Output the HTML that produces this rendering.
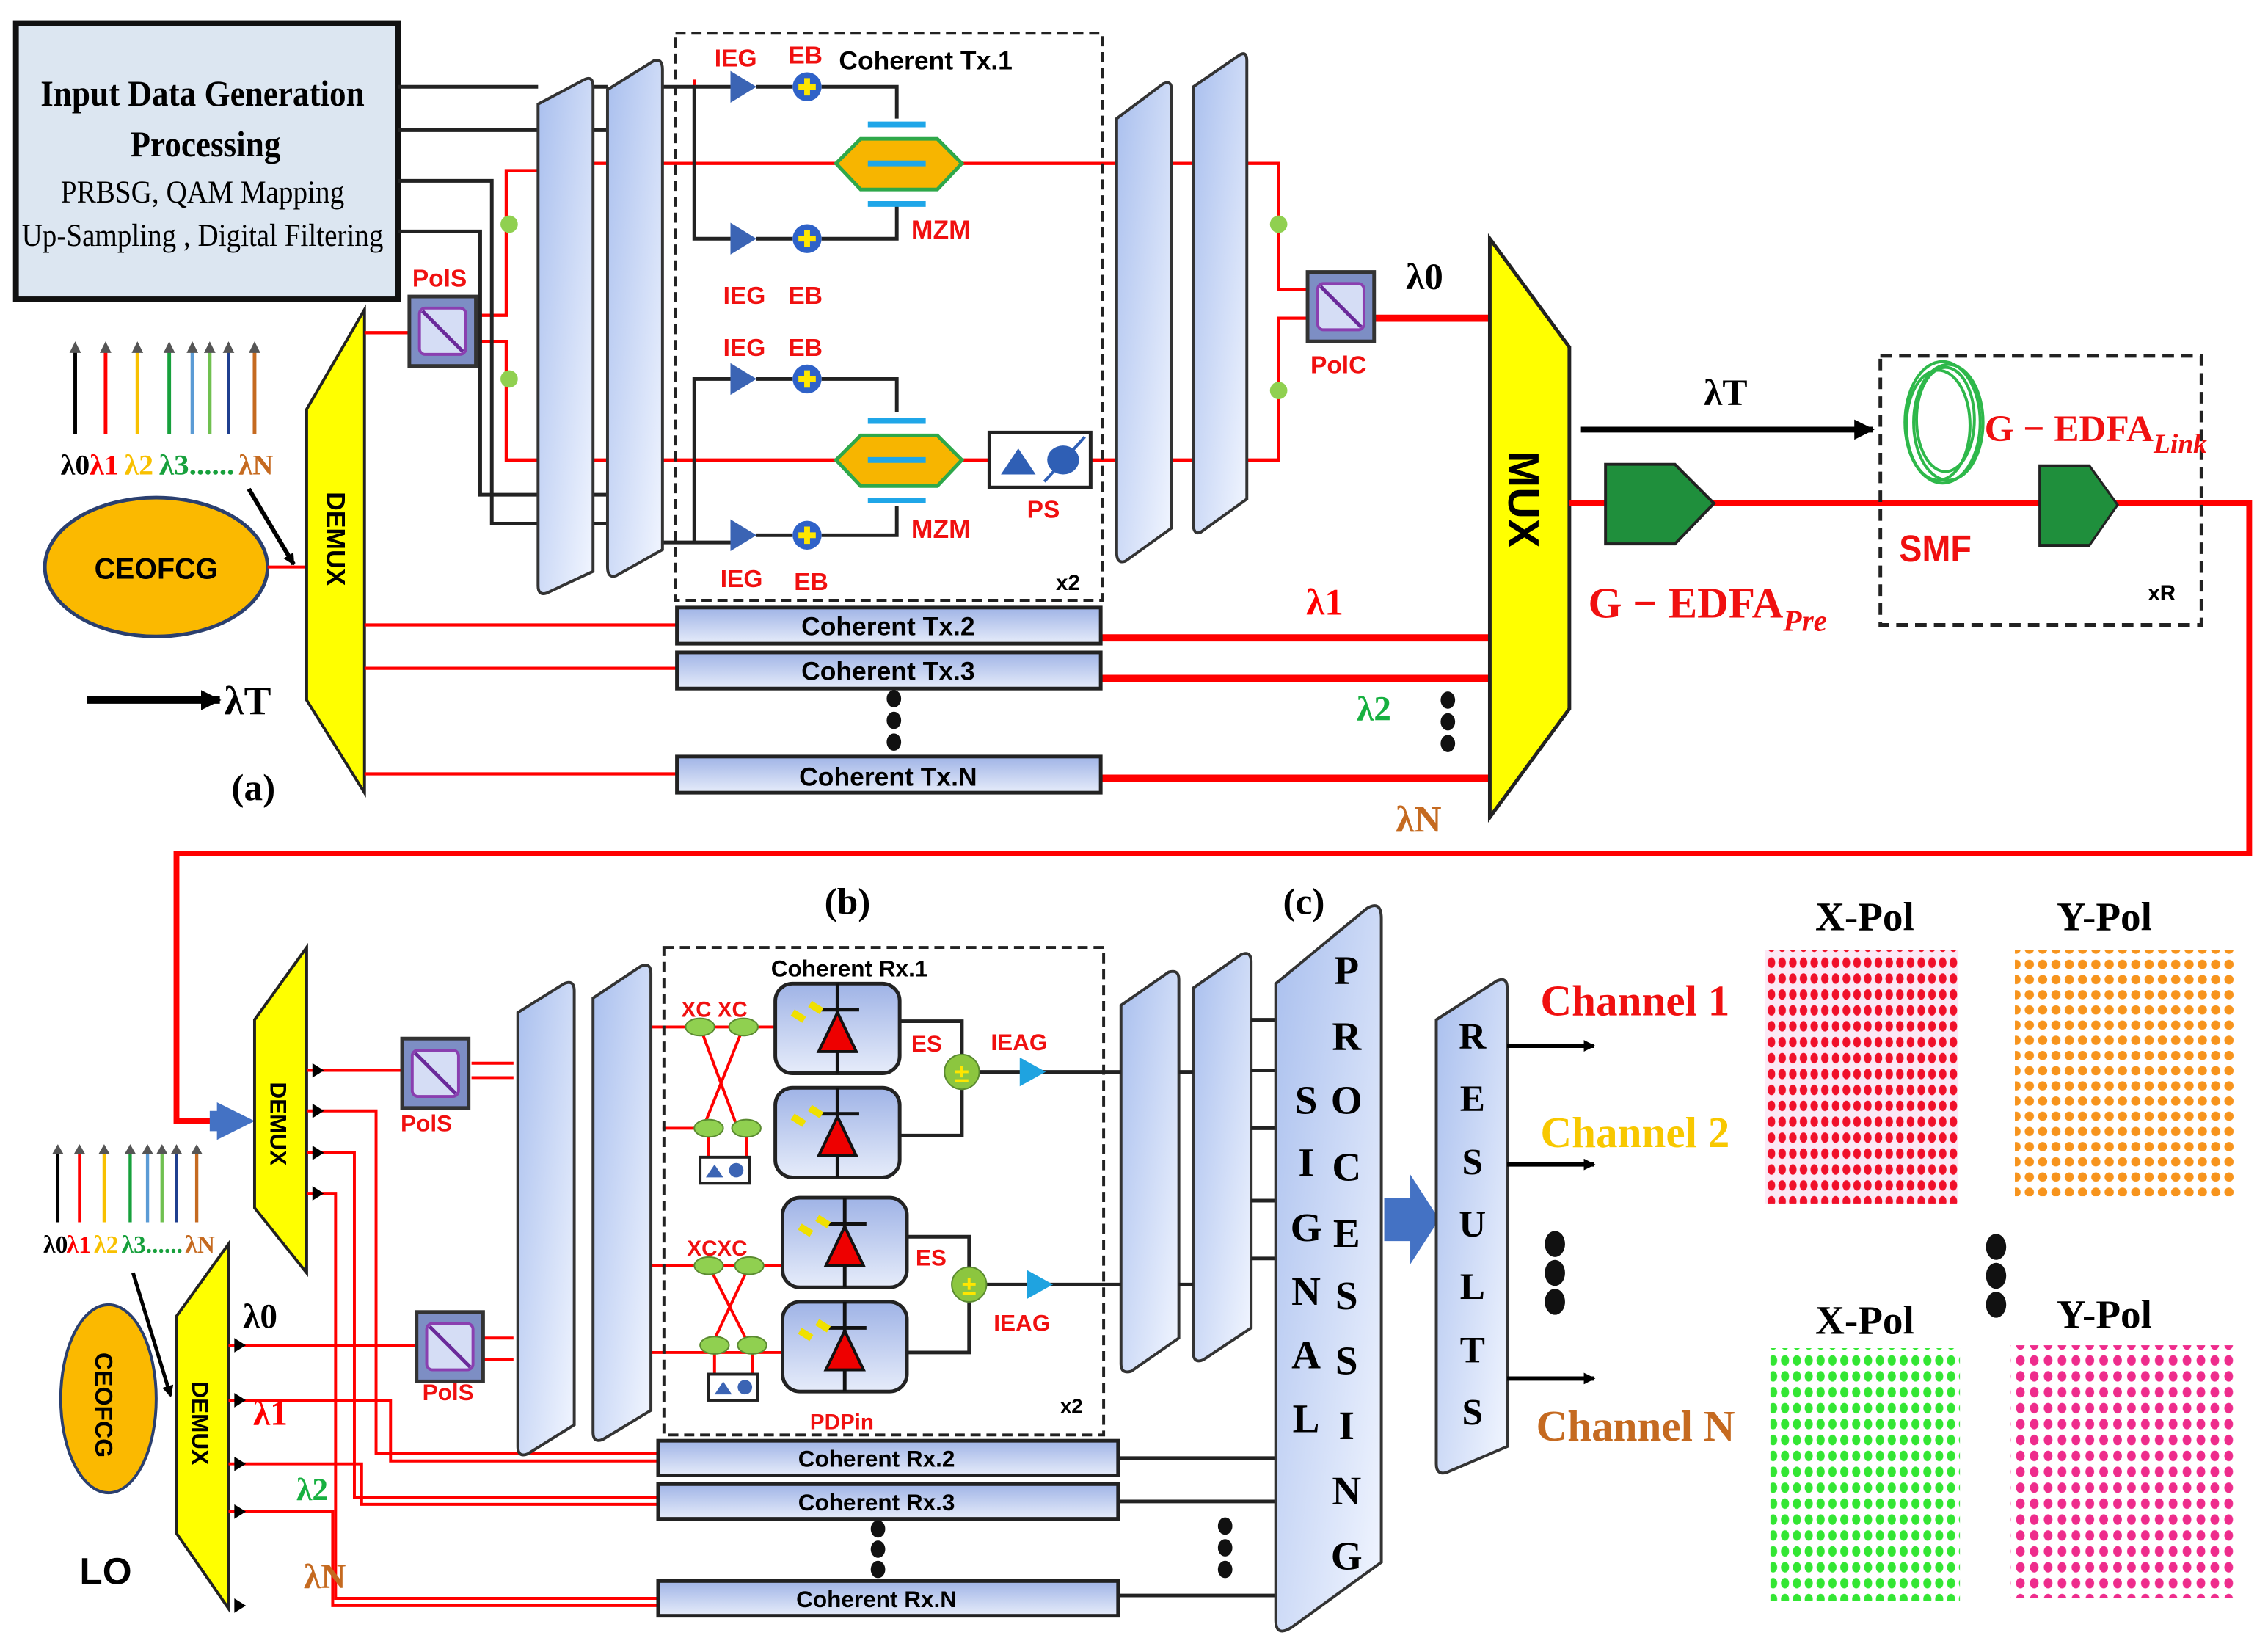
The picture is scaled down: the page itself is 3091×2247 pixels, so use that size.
<!DOCTYPE html>
<html><head><meta charset="utf-8"><style>
html,body{margin:0;padding:0;background:#fff;}
svg{display:block;}
.r{font-family:"Liberation Sans",sans-serif;font-weight:bold;fill:#f01010;}
.s{font-family:"Liberation Serif",serif;font-weight:bold;}
.b{font-family:"Liberation Sans",sans-serif;font-weight:bold;}
</style></head><body>
<svg width="3091" height="2247" viewBox="0 0 1568 1140" preserveAspectRatio="none" xmlns="http://www.w3.org/2000/svg">
<defs>
<linearGradient id="pg" x1="0" y1="0" x2="1" y2="1"><stop offset="0" stop-color="#a9bfee"/><stop offset="1" stop-color="#f2f6ff"/></linearGradient>
<linearGradient id="bar" x1="0" y1="0" x2="0" y2="1"><stop offset="0" stop-color="#9fb3e6"/><stop offset="1" stop-color="#e6ecfa"/></linearGradient>
<marker id="ah" markerWidth="8" markerHeight="8" refX="7" refY="4" orient="auto" markerUnits="userSpaceOnUse"><path d="M0,0 L8,4 L0,8Z" fill="#000"/></marker>
<marker id="ah2" markerWidth="14" markerHeight="14" refX="13" refY="7" orient="auto" markerUnits="userSpaceOnUse"><path d="M0,0 L14,7 L0,14Z" fill="#000"/></marker>
<pattern id="dR" width="7.4" height="11" patternUnits="userSpaceOnUse"><ellipse cx="3.7" cy="5.5" rx="2.6" ry="3.6" fill="#f0102a"/></pattern>
<pattern id="dO" width="9.2" height="10.5" patternUnits="userSpaceOnUse"><circle cx="4.6" cy="5.2" r="3.2" fill="#f7941d"/></pattern>
<pattern id="dG" width="8.2" height="11" patternUnits="userSpaceOnUse"><ellipse cx="4.1" cy="5.5" rx="2.8" ry="3.6" fill="#33e633"/></pattern>
<pattern id="dP" width="9.6" height="11" patternUnits="userSpaceOnUse"><ellipse cx="4.8" cy="5.5" rx="3" ry="3.6" fill="#ee2c8c"/></pattern>
<g id="eb"><circle r="10" fill="#2f62c8"/><path d="M-6,0H6M0,-6V6" stroke="#ffe600" stroke-width="4"/></g>
<g id="ieg"><path d="M0,-11 L18,0 L0,11Z" fill="#3b64b4"/></g>
<g id="pd"><rect x="0" y="0" width="86" height="62" rx="12" fill="url(#bar)" stroke="#222" stroke-width="2.5"/><path d="M43,0V62M28,18H58" stroke="#111" stroke-width="2.5"/><path d="M43,20 L30,47 L56,47Z" fill="#ee0000" stroke="#111" stroke-width="2"/><path d="M12,20 l8,5 M24,14 l8,5" stroke="#f0e000" stroke-width="5"/></g>
<g id="pol"><rect x="0" y="0" width="46" height="48" fill="#7d8ec4" stroke="#333" stroke-width="2.5"/><rect x="7" y="8" width="32" height="32" rx="4" fill="#d5ddf5" stroke="#8a3fb0" stroke-width="2"/><path d="M9,10 L37,38" stroke="#6a2a9a" stroke-width="2.5"/></g>
<g id="amp"><path d="M0,0 H48 L75,27 L48,55 H0Z" fill="#1f8f3c" stroke="#222" stroke-width="2"/></g>
</defs>
<rect width="1568" height="1140" fill="#fff"/>

<!-- ===== (a) TOP ===== -->
<rect x="11" y="16" width="264" height="191" fill="#dce6f1" stroke="#111" stroke-width="4"/>
<text x="140" y="73" text-anchor="middle" class="s" font-size="25" textLength="224" lengthAdjust="spacingAndGlyphs">Input Data Generation</text>
<text x="142" y="108" text-anchor="middle" class="s" font-size="25" textLength="104" lengthAdjust="spacingAndGlyphs">Processing</text>
<text x="140" y="140" text-anchor="middle" font-family="Liberation Serif" font-size="22" textLength="196" lengthAdjust="spacingAndGlyphs">PRBSG, QAM Mapping</text>
<text x="140" y="170" text-anchor="middle" font-family="Liberation Serif" font-size="22" textLength="250" lengthAdjust="spacingAndGlyphs">Up-Sampling , Digital  Filtering</text>

<!-- lambda arrows -->
<g stroke-width="2.5">
<line x1="52" y1="300" x2="52" y2="240" stroke="#000"/><line x1="73" y1="300" x2="73" y2="240" stroke="#f00"/>
<line x1="95" y1="300" x2="95" y2="240" stroke="#f8c000"/><line x1="117" y1="300" x2="117" y2="240" stroke="#17a03c"/>
<line x1="133" y1="300" x2="133" y2="240" stroke="#5b9bd5"/><line x1="145" y1="300" x2="145" y2="240" stroke="#70c050"/>
<line x1="158" y1="300" x2="158" y2="240" stroke="#1f3f8f"/><line x1="176" y1="300" x2="176" y2="240" stroke="#c56a20"/>
</g>
<path d="M48,244 l4,-8 4,8Z M69,244 l4,-8 4,8Z M91,244 l4,-8 4,8Z M113,244 l4,-8 4,8Z M129,244 l4,-8 4,8Z M141,244 l4,-8 4,8Z M154,244 l4,-8 4,8Z M172,244 l4,-8 4,8Z" fill="#555"/>
<g font-family="Liberation Serif" font-size="20" font-weight="bold">
<text x="42" y="328" textLength="20" lengthAdjust="spacingAndGlyphs">λ0</text><text x="62" y="328" fill="#f00" textLength="20" lengthAdjust="spacingAndGlyphs">λ1</text><text x="86" y="328" fill="#f8c000" textLength="20" lengthAdjust="spacingAndGlyphs">λ2</text><text x="110" y="328" fill="#17a03c" textLength="52" lengthAdjust="spacingAndGlyphs">λ3......</text><text x="165" y="328" fill="#c56a20" textLength="24" lengthAdjust="spacingAndGlyphs">λN</text>
</g>
<line x1="172" y1="338" x2="203" y2="390" stroke="#000" stroke-width="3" marker-end="url(#ah)"/>
<ellipse cx="108" cy="392" rx="77" ry="48" fill="#fbb900" stroke="#2a3f6f" stroke-width="2.5"/>
<text x="108" y="400" text-anchor="middle" class="b" font-size="20">CEOFCG</text>
<line x1="185" y1="392" x2="212" y2="392" stroke="#f00" stroke-width="2"/>
<line x1="60" y1="484" x2="152" y2="484" stroke="#000" stroke-width="5" marker-end="url(#ah2)"/>
<text x="155" y="494" class="s" font-size="28" font-weight="normal">λT</text>
<text x="160" y="553" font-family="Liberation Serif" font-size="26" font-weight="bold">(a)</text>

<polygon points="252,214 212,283 212,484 252,548" fill="#ffff00" stroke="#222" stroke-width="2"/>
<text transform="translate(226,340) rotate(90)" class="b" font-size="18">DEMUX</text>

<g stroke="#f00" stroke-width="2.2" fill="none">
<path d="M252,230 H285"/>
<path d="M330,218 H350 V118 H372 M330,236 H350 V318 H372"/>
<path d="M410,113 H420 M410,318 H420"/>
<path d="M458,113 H578 M665,113 H772"/>
<path d="M458,318 H578 M665,318 H684 M754,318 H772"/>
<path d="M810,113 H825 M810,318 H825"/>
<path d="M862,113 H884 V200 H904 M862,318 H884 V220 H904"/>
<path d="M252,432 H468 M252,462 H468 M252,535 H468"/>
<path d="M480,60 H490 M480,55 V72 M480,360 V375 H490"/>
</g>
<circle cx="352" cy="155" r="6" fill="#90d050"/><circle cx="352" cy="262" r="6" fill="#90d050"/>
<circle cx="884" cy="155" r="6" fill="#90d050"/><circle cx="884" cy="270" r="6" fill="#90d050"/>
<g stroke="#f00" stroke-width="5"><path d="M950,220 H1030 M762,441 H1030 M762,469 H1030 M762,538 H1030"/></g>
<use href="#pol" x="283" y="205"/>
<text x="285" y="198" class="r" font-size="17">PolS</text>
<use href="#pol" x="904" y="188"/>
<text x="906" y="258" class="r" font-size="17">PolC</text>

<g stroke="#222" stroke-width="2.5" fill="none">
<path d="M275,60 H372 M275,90 H372 M275,125 H340 V362 H372 M275,160 H332 V342 H372"/>
<path d="M410,60 H420 M410,90 H420 M410,342 H420 M410,362 H420"/>
<path d="M458,60 H505 M458,375 H505"/>
<path d="M480,60 V165 H505 M480,375 V262 H505"/>
<path d="M523,60 H548 M523,165 H548 M523,262 H548 M523,370 H548"/>
<path d="M568,60 H620 V82 M568,165 H620 V142 M568,262 H620 V285 M568,370 H620 V350"/>
</g>
<g fill="url(#pg)" stroke="#333" stroke-width="2">
<path d="M372,72 L404,55 Q410,52 410,60 V395 L378,410 Q372,412 372,405Z"/>
<path d="M420,62 L452,42 Q458,40 458,48 V380 L426,398 Q420,400 420,392Z"/>
<path d="M772,82 L804,58 Q810,55 810,62 V365 L778,388 Q772,390 772,382Z"/>
<path d="M825,60 L857,38 Q862,35 862,42 V345 L830,368 Q825,370 825,362Z"/>
</g>
<rect x="467" y="23" width="295" height="392" fill="none" stroke="#222" stroke-width="2" stroke-dasharray="7,4"/>
<text x="580" y="48" class="b" font-size="18">Coherent Tx.1</text>
<text x="494" y="46" class="r" font-size="17">IEG</text><text x="545" y="44" class="r" font-size="17">EB</text>
<text x="500" y="210" class="r" font-size="17">IEG</text><text x="545" y="210" class="r" font-size="17">EB</text>
<text x="500" y="246" class="r" font-size="17">IEG</text><text x="545" y="246" class="r" font-size="17">EB</text>
<text x="498" y="406" class="r" font-size="17">IEG</text><text x="549" y="408" class="r" font-size="17">EB</text>
<text x="630" y="165" class="r" font-size="18">MZM</text><text x="630" y="372" class="r" font-size="18">MZM</text>
<text x="710" y="358" class="r" font-size="17">PS</text>
<text x="730" y="408" class="b" font-size="15">x2</text>
<use href="#ieg" x="505" y="60"/><use href="#ieg" x="505" y="165"/><use href="#ieg" x="505" y="262"/><use href="#ieg" x="505" y="370"/>
<use href="#eb" x="558" y="60"/><use href="#eb" x="558" y="165"/><use href="#eb" x="558" y="262"/><use href="#eb" x="558" y="370"/>
<g>
<path d="M578,113 L595,96 H648 L665,113 L648,131 H595Z" fill="#f7b500" stroke="#2ea84a" stroke-width="2.5"/>
<path d="M600,113 H640 M600,86 H640 M600,141 H640" stroke="#1fa6e8" stroke-width="4"/>
<path d="M578,318 L595,301 H648 L665,318 L648,336 H595Z" fill="#f7b500" stroke="#2ea84a" stroke-width="2.5"/>
<path d="M600,318 H640 M600,291 H640 M600,346 H640" stroke="#1fa6e8" stroke-width="4"/>
</g>
<rect x="684" y="299" width="70" height="38" fill="#fff" stroke="#222" stroke-width="2.5"/>
<path d="M692,328 L704,310 L716,328Z" fill="#2f5fb5"/><ellipse cx="735" cy="318" rx="11" ry="10" fill="#2f5fb5"/><path d="M722,333 L750,302" stroke="#2f5fb5" stroke-width="2"/>

<g fill="url(#bar)" stroke="#222" stroke-width="2.5">
<rect x="468" y="420" width="293" height="25"/><rect x="468" y="451" width="293" height="25"/><rect x="468" y="523" width="293" height="25"/>
</g>
<g class="b" font-size="18" text-anchor="middle">
<text x="614" y="439">Coherent Tx.2</text><text x="614" y="470">Coherent Tx.3</text><text x="614" y="543">Coherent Tx.N</text>
</g>
<g fill="#111"><ellipse cx="618" cy="483" rx="5" ry="6"/><ellipse cx="618" cy="498" rx="5" ry="6"/><ellipse cx="618" cy="513" rx="5" ry="6"/>
<ellipse cx="1001" cy="484" rx="5" ry="6"/><ellipse cx="1001" cy="499" rx="5" ry="6"/><ellipse cx="1001" cy="514" rx="5" ry="6"/></g>
<text x="972" y="200" class="s" font-size="26">λ0</text>
<text x="903" y="425" class="s" font-size="26" fill="#f00">λ1</text>
<text x="938" y="498" class="s" font-size="24" fill="#17b040">λ2</text>
<text x="965" y="575" class="s" font-size="26" fill="#c56a20">λN</text>

<polygon points="1030,165 1085,240 1085,490 1030,565" fill="#ffff00" stroke="#222" stroke-width="2.5"/>
<text transform="translate(1043,312) rotate(90)" class="b" font-size="30">MUX</text>

<line x1="1093" y1="297" x2="1295" y2="297" stroke="#000" stroke-width="4" marker-end="url(#ah2)"/>
<text x="1178" y="280" class="s" font-size="26" font-weight="normal">λT</text>
<path d="M1085,348 H1555 V590 H122 V775 H150" stroke="#f00" stroke-width="4" fill="none"/>
<path d="M150,762 L176,775 L150,788Z" fill="#4472c4"/><rect x="145" y="768" width="8" height="14" fill="#4472c4"/>
<use href="#amp" x="1110" y="321"/>
<g transform="translate(1410,322) scale(0.72,1)"><use href="#amp"/></g>
<rect x="1300" y="246" width="222" height="186" fill="none" stroke="#222" stroke-width="2.5" stroke-dasharray="8,5"/>
<g fill="none" stroke="#2eb84a" stroke-width="2">
<ellipse cx="1343" cy="292" rx="26" ry="42"/><ellipse cx="1347" cy="292" rx="24" ry="40"/><ellipse cx="1340" cy="294" rx="22" ry="38"/><ellipse cx="1345" cy="290" rx="20" ry="36"/>
</g>
<text x="1313" y="388" class="r" font-size="26" textLength="50" lengthAdjust="spacingAndGlyphs">SMF</text>
<text x="1372" y="305" class="s" font-size="26" fill="#f01010">G − EDFA<tspan font-size="19" font-style="italic" dy="8">Link</tspan></text>
<text x="1098" y="427" class="s" font-size="30" fill="#f01010">G − EDFA<tspan font-size="21" font-style="italic" dy="9">Pre</tspan></text>
<text x="1485" y="415" class="b" font-size="15">xR</text>

<!-- ===== (b) BOTTOM ===== -->
<text x="570" y="632" font-family="Liberation Serif" font-size="26" font-weight="bold">(b)</text>
<text x="887" y="632" font-family="Liberation Serif" font-size="26" font-weight="bold">(c)</text>

<polygon points="212,655 176,705 176,835 212,880" fill="#ffff00" stroke="#222" stroke-width="2"/>
<text transform="translate(187,748) rotate(90)" class="b" font-size="16">DEMUX</text>
<polygon points="158,860 122,910 122,1060 158,1112" fill="#ffff00" stroke="#222" stroke-width="2"/>
<text transform="translate(133,955) rotate(90)" class="b" font-size="16">DEMUX</text>
<ellipse cx="75" cy="967" rx="33" ry="65" fill="#fbb900" stroke="#2a3f6f" stroke-width="2"/>
<text transform="translate(66,935) rotate(90)" class="b" font-size="17">CEOFCG</text>
<text x="55" y="1095" class="b" font-size="26">LO</text>
<g stroke-width="2.2">
<line x1="40" y1="845" x2="40" y2="795" stroke="#000"/><line x1="55" y1="845" x2="55" y2="795" stroke="#f00"/>
<line x1="72" y1="845" x2="72" y2="795" stroke="#f8c000"/><line x1="90" y1="845" x2="90" y2="795" stroke="#17a03c"/>
<line x1="102" y1="845" x2="102" y2="795" stroke="#5b9bd5"/><line x1="112" y1="845" x2="112" y2="795" stroke="#70c050"/>
<line x1="122" y1="845" x2="122" y2="795" stroke="#1f3f8f"/><line x1="136" y1="845" x2="136" y2="795" stroke="#c56a20"/>
</g>
<path d="M36,798 l4,-7 4,7Z M51,798 l4,-7 4,7Z M68,798 l4,-7 4,7Z M86,798 l4,-7 4,7Z M98,798 l4,-7 4,7Z M108,798 l4,-7 4,7Z M118,798 l4,-7 4,7Z M132,798 l4,-7 4,7Z" fill="#555"/>
<g font-family="Liberation Serif" font-size="17" font-weight="bold">
<text x="30" y="866">λ0</text><text x="46" y="866" fill="#f00">λ1</text><text x="65" y="866" fill="#f8c000">λ2</text><text x="84" y="866" fill="#17a03c">λ3......</text><text x="128" y="866" fill="#c56a20">λN</text>
</g>
<line x1="92" y1="880" x2="118" y2="965" stroke="#000" stroke-width="2.5" marker-end="url(#ah)"/>

<g stroke="#f00" stroke-width="2" fill="none">
<path d="M212,740 H278 M212,768 H260 V1005 H455 M212,797 H245 V1035 H455 M212,825 H232 V1105 H455"/>
<path d="M158,930 H290 M158,968 H270 V1010 H455 M158,1012 H250 V1040 H455 M158,1045 H230 V1110 H455"/>
<path d="M326,735 H355 M326,745 H355 M316,925 H355 M316,940 H355"/>
<path d="M448,710 H536 M448,935 H540"/>
<path d="M484,710 L510,780 M514,710 L486,780 M490,875 L518,930 M518,875 L492,930"/>
<path d="M490,780 V800 M516,780 V800 M494,930 V950 M520,930 V950"/>
<path d="M448,875 H540 M458,780 H490"/>
</g>
<g fill="#000">
<path d="M216,735 l8,5 -8,5Z M216,763 l8,5 -8,5Z M216,792 l8,5 -8,5Z M216,820 l8,5 -8,5Z"/>
<path d="M162,925 l8,5 -8,5Z M162,963 l8,5 -8,5Z M162,1007 l8,5 -8,5Z M162,1040 l8,5 -8,5Z M162,1105 l8,5 -8,5Z"/>
</g>
<text x="168" y="918" class="s" font-size="24">λ0</text>
<text x="175" y="985" class="s" font-size="24" fill="#f00">λ1</text>
<text x="205" y="1037" class="s" font-size="22" fill="#17b040">λ2</text>
<text x="210" y="1098" class="s" font-size="24" fill="#c56a20">λN</text>
<use href="#pol" x="278" y="718"/><text x="277" y="782" class="r" font-size="16">PolS</text>
<use href="#pol" x="288" y="907"/><text x="292" y="968" class="r" font-size="16">PolS</text>

<g fill="url(#pg)" stroke="#333" stroke-width="2">
<path d="M358,700 L390,680 Q397,677 397,685 V985 L365,1005 Q358,1008 358,1000Z"/>
<path d="M410,690 L443,668 Q450,665 450,673 V975 L417,995 Q410,998 410,990Z"/>
<path d="M775,695 L808,672 Q815,670 815,677 V925 L782,948 Q775,950 775,943Z"/>
<path d="M825,683 L858,660 Q865,657 865,665 V918 L832,940 Q825,943 825,935Z"/>
</g>
<rect x="459" y="655" width="304" height="337" fill="none" stroke="#222" stroke-width="2" stroke-dasharray="7,4"/>
<text x="533" y="675" class="b" font-size="16">Coherent Rx.1</text>
<g fill="#90d050" stroke="#5a8a30" stroke-width="1">
<ellipse cx="484" cy="710" rx="10" ry="6"/><ellipse cx="514" cy="710" rx="10" ry="6"/><ellipse cx="490" cy="780" rx="10" ry="6"/><ellipse cx="516" cy="780" rx="10" ry="6"/>
<ellipse cx="490" cy="875" rx="10" ry="6"/><ellipse cx="518" cy="875" rx="10" ry="6"/><ellipse cx="494" cy="930" rx="10" ry="6"/><ellipse cx="520" cy="930" rx="10" ry="6"/>
</g>
<g><rect x="484" y="800" width="34" height="18" fill="#fff" stroke="#222" stroke-width="2"/><path d="M488,814 l6,-9 6,9Z" fill="#3b64b4"/><circle cx="509" cy="809" r="5" fill="#3b64b4"/>
<rect x="490" y="950" width="34" height="18" fill="#fff" stroke="#222" stroke-width="2"/><path d="M494,964 l6,-9 6,9Z" fill="#3b64b4"/><circle cx="515" cy="959" r="5" fill="#3b64b4"/></g>
<text x="471" y="703" class="r" font-size="15">XC XC</text>
<text x="475" y="868" class="r" font-size="15">XCXC</text>
<use href="#pd" x="536" y="680"/><use href="#pd" x="536" y="752"/>
<use href="#pd" x="541" y="828"/><use href="#pd" x="541" y="900"/>
<g stroke="#222" stroke-width="2.5" fill="none">
<path d="M622,706 H665 V730 M622,785 H665 V752 M627,855 H670 V876 M627,935 H670 V900"/>
<path d="M676,741 H763 L775,741 M681,888 H763 L775,888 M815,741 H825 M815,888 H825"/>
<path d="M865,705 H882 M865,740 H882 M865,780 H882 M865,830 H882 M865,870 H882"/>
<path d="M773,1008 H882 M773,1038 H882 M773,1103 H882"/>
</g>
<circle cx="665" cy="741" r="12" fill="#8cc63f" stroke="#5a8a30"/><text x="665" y="748" text-anchor="middle" font-size="18" fill="#ffe600" class="b">±</text>
<circle cx="670" cy="888" r="12" fill="#8cc63f" stroke="#5a8a30"/><text x="670" y="895" text-anchor="middle" font-size="18" fill="#ffe600" class="b">±</text>
<path d="M705,731 L723,741 L705,751Z M710,878 L728,888 L710,898Z" fill="#1fa3e0"/>
<text x="630" y="727" class="r" font-size="16">ES</text><text x="685" y="726" class="r" font-size="16">IEAG</text>
<text x="633" y="875" class="r" font-size="16">ES</text><text x="687" y="920" class="r" font-size="16">IEAG</text>
<text x="560" y="988" class="r" font-size="15">PDPin</text>
<text x="733" y="977" class="b" font-size="14">x2</text>

<g fill="url(#bar)" stroke="#222" stroke-width="2.5">
<rect x="455" y="996" width="318" height="24"/><rect x="455" y="1026" width="318" height="24"/><rect x="455" y="1093" width="318" height="24"/>
</g>
<g class="b" font-size="16" text-anchor="middle">
<text x="606" y="1014">Coherent Rx.2</text><text x="606" y="1044">Coherent Rx.3</text><text x="606" y="1111">Coherent Rx.N</text>
</g>
<g fill="#111"><ellipse cx="607" cy="1057" rx="5" ry="6"/><ellipse cx="607" cy="1071" rx="5" ry="6"/><ellipse cx="607" cy="1085" rx="5" ry="6"/>
<ellipse cx="847" cy="1055" rx="5" ry="6"/><ellipse cx="847" cy="1070" rx="5" ry="6"/><ellipse cx="847" cy="1085" rx="5" ry="6"/></g>

<path d="M882,680 L945,628 Q955,622 955,635 V1080 L893,1125 Q882,1132 882,1120Z" fill="url(#pg)" stroke="#333" stroke-width="2"/>
<g class="s" font-size="28" font-weight="bold" text-anchor="middle">
<text x="931" y="680">P</text><text x="931" y="726">R</text><text x="931" y="770">O</text><text x="931" y="816">C</text><text x="931" y="862">E</text><text x="931" y="905">S</text><text x="931" y="950">S</text><text x="931" y="995">I</text><text x="931" y="1040">N</text><text x="931" y="1085">G</text>
<text x="903" y="770">S</text><text x="903" y="813">I</text><text x="903" y="858">G</text><text x="903" y="902">N</text><text x="903" y="946">A</text><text x="903" y="990">L</text>
</g>
<path d="M957,828 H975 V812 L995,843 L975,874 V858 H957Z" fill="#4472c4"/>
<path d="M993,705 L1035,678 Q1042,675 1042,683 V1000 L1000,1018 Q993,1020 993,1012Z" fill="url(#pg)" stroke="#333" stroke-width="2"/>
<g class="s" font-size="26" text-anchor="middle">
<text x="1018" y="725">R</text><text x="1018" y="768">E</text><text x="1018" y="812">S</text><text x="1018" y="855">U</text><text x="1018" y="898">L</text><text x="1018" y="942">T</text><text x="1018" y="985">S</text>
</g>
<g stroke="#000" stroke-width="3">
<line x1="1042" y1="723" x2="1102" y2="723" marker-end="url(#ah)"/>
<line x1="1042" y1="805" x2="1102" y2="805" marker-end="url(#ah)"/>
<line x1="1042" y1="953" x2="1102" y2="953" marker-end="url(#ah)"/>
</g>
<g fill="#111"><ellipse cx="1075" cy="860" rx="7" ry="9"/><ellipse cx="1075" cy="880" rx="7" ry="9"/><ellipse cx="1075" cy="900" rx="7" ry="9"/>
<ellipse cx="1380" cy="862" rx="7" ry="9"/><ellipse cx="1380" cy="882" rx="7" ry="9"/><ellipse cx="1380" cy="902" rx="7" ry="9"/></g>
<text x="1065" y="702" class="s" font-size="30" fill="#f01010">Channel 1</text>
<text x="1065" y="793" class="s" font-size="30" fill="#f8c800">Channel 2</text>
<text x="1062" y="996" class="s" font-size="30" fill="#c56a20">Channel N</text>

<text x="1255" y="643" class="s" font-size="28">X-Pol</text>
<text x="1422" y="643" class="s" font-size="28">Y-Pol</text>
<text x="1255" y="922" class="s" font-size="28">X-Pol</text>
<text x="1422" y="918" class="s" font-size="28">Y-Pol</text>
<rect x="1220" y="657" width="134" height="175" fill="#fbe8f5"/>
<rect x="1220" y="657" width="134" height="175" fill="url(#dR)"/>
<rect x="1393" y="657" width="152" height="170" fill="url(#dO)"/>
<rect x="1224" y="932" width="131" height="175" fill="url(#dG)"/>
<rect x="1390" y="930" width="154" height="175" fill="url(#dP)"/>
</svg>
</body></html>
